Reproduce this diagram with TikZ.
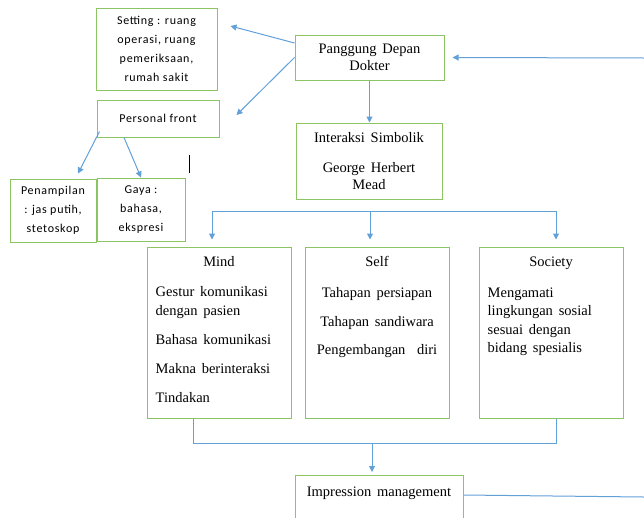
\documentclass[tikz,border=0pt]{standalone}
\usepackage{fontspec}
\setmainfont{Liberation Serif}[WordSpace=1.6]
\newfontfamily\smallsans[LetterSpace=6]{Carlito}
\usetikzlibrary{arrows.meta,positioning}
\definecolor{boxgreen}{RGB}{140,196,100}
\definecolor{linkblue}{RGB}{98,160,216}

\tikzset{
    box/.style={draw=boxgreen, line width=1pt, inner sep=0pt},
    sansbox/.style={box, align=center, font=\smallsans\fontsize{12}{19}\selectfont},
    serifbox/.style={box, align=center, font=\fontsize{14.5}{17}\selectfont},
    listtext/.style={inner sep=0pt, font=\fontsize{14.5}{18.5}\selectfont},
    link/.style={draw=linkblue, line width=1pt},
    arrow/.style={link, -{Triangle[width=6pt,length=6pt]}},
}

\begin{document}
\begin{tikzpicture}[x=1pt,y=-1pt]
    \useasboundingbox (0,0) rectangle (644,517);

    % left side: front stage parts
    \node [sansbox, minimum width=121pt, minimum height=82pt] (setting) at (156.5,49)
        {Setting : ruang\\operasi, ruang\\pemeriksaan,\\rumah sakit};
    \node [sansbox, minimum width=122pt, minimum height=37pt] (personal) at (158,118.5)
        {Personal front};
    \node [sansbox, minimum width=86pt, minimum height=63pt] (penampilan) at (53,210.5)
        {Penampilan\\: jas putih,\\stetoskop};
    \node [sansbox, minimum width=88pt, minimum height=63pt] (gaya) at (141,209.5)
        {Gaya :\\bahasa,\\ekspresi};
    \draw [black, line width=0.8pt] (189,155) -- (189,173);

    % centre column
    \node [serifbox, minimum width=149pt, minimum height=45pt] (panggung) at (369.5,57.5)
        {Panggung Depan\\Dokter};
    \node [serifbox, minimum width=146pt, minimum height=76pt] (interaksi) at (369,161)
        {Interaksi Simbolik\\[13pt]George Herbert\\Mead};

    % mind, self, society
    \foreach \name/\x in {mind/219, self/377, society/551} {
        \node [box, minimum width=144pt, minimum height=171pt] (\name) at (\x,332.5) {};
    }
    \node [listtext, anchor=base] (mindtitle) at ([yshift=-20pt]mind.north) {Mind};
    \node [listtext, anchor=base] (selftitle) at ([yshift=-20pt]self.north) {Self};
    \node [listtext, anchor=base] (societytitle) at ([yshift=-20pt]society.north) {Society};
    \node [listtext, anchor=north west, align=left] (minditems) at ([xshift=9pt,yshift=-40pt]mind.north west)
        {Gestur komunikasi\\dengan pasien\\[10.5pt]Bahasa komunikasi\\[10.5pt]Makna berinteraksi\\[10.5pt]Tindakan};
    \node [listtext, anchor=north, align=center] (selfitems) at ([yshift=-41pt]self.north)
        {Tahapan persiapan\\[10pt]Tahapan sandiwara\\[10pt]Pengembangan\ \ diri};
    \node [listtext, anchor=north west, align=left] (societyitems) at ([xshift=9pt,yshift=-41pt]society.north west)
        {Mengamati\\lingkungan sosial\\sesuai dengan\\bidang spesialis};

    \node [box, font=\fontsize{14.5}{17}\selectfont, anchor=north, minimum width=168pt,
        text height=12pt, text depth=40pt, inner ysep=9pt] (impression) at (379,475)
        {Impression management};

    % connectors
    \coordinate (rightin) at (644,58);
    \coordinate (rightout) at (644,497);
    \coordinate (splitL) at (212,211);
    \coordinate (splitR) at (556,211);
    \coordinate (splitM) at (370,211);
    \coordinate (merge) at (372,443);

    \draw [arrow] ([yshift=14.5pt]panggung.west) -- ([xshift=13pt,yshift=23pt]setting.east);
    \draw [arrow] (panggung.west) -- ([xshift=17pt,yshift=3.5pt]personal.east);
    \draw [arrow] ([xshift=3pt,yshift=6pt]personal.south west) -- ([xshift=25pt,yshift=5pt]penampilan.north);
    \draw [arrow] ([xshift=-34pt]personal.south) -- (gaya.north);
    \draw [arrow] (panggung.south) -- (panggung.south |- interaksi.north);
    \draw [arrow] (rightin) -- ([xshift=8pt]panggung.east);

    \draw [link] (splitL) -- (splitR);
    \draw [arrow, shorten >=7pt] (splitL) -- (splitL |- mind.north);
    \draw [arrow, shorten >=7pt] (splitM) -- (splitM |- self.north);
    \draw [arrow, shorten >=7pt] (splitR) -- (splitR |- society.north);

    \draw [link] ([xshift=-26pt]mind.south) |- (merge) -| ([xshift=5pt]society.south);
    \draw [arrow, shorten >=3pt] (merge) -- (merge |- impression.north);
    \draw [link] ([yshift=-20pt]impression.north east) -- (rightout);
\end{tikzpicture}
\end{document}
